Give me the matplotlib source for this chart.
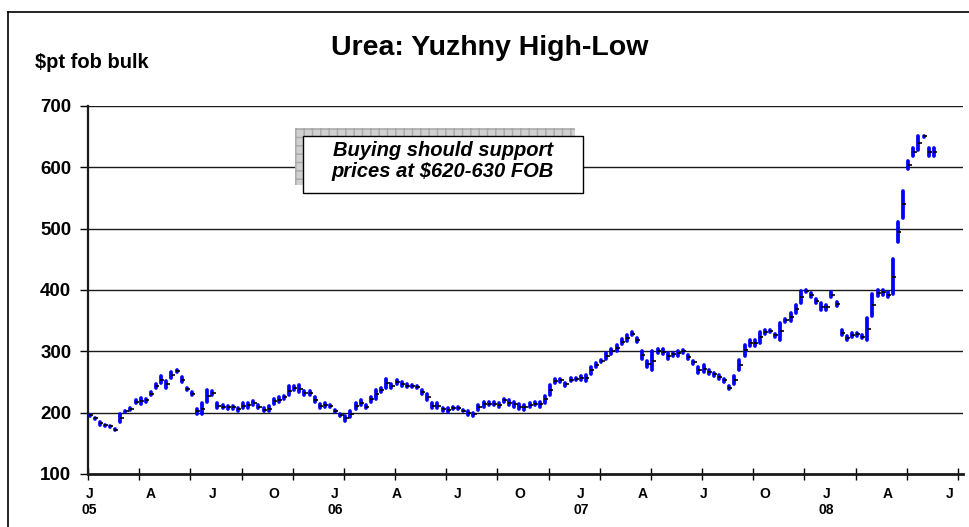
import numpy as np
import matplotlib
matplotlib.use("Agg")
import matplotlib.pyplot as plt
from matplotlib.patches import Rectangle
from matplotlib.lines import Line2D
import matplotlib.transforms as mtransforms

plt.rcParams['font.family'] = ['Liberation Sans', 'DejaVu Sans']

# weekly high / low, $/t fob bulk (Jan 2005 - Jun 2008)
high = [198, 192, 186, 181, 179, 174, 199, 204, 209, 222, 225, 224, 234, 248, 261, 253,
        268, 271, 259, 242, 235, 207, 216, 238, 236, 216, 213, 212, 212, 209, 216, 217,
        220, 213, 208, 212, 224, 226, 228, 245, 245, 246, 236, 237, 226, 215, 216, 214,
        206, 199, 195, 204, 216, 221, 213, 227, 238, 242, 256, 248, 254, 251, 247, 246,
        245, 238, 232, 216, 216, 209, 208, 211, 211, 206, 203, 201, 214, 218, 218, 218,
        216, 223, 221, 219, 215, 214, 216, 218, 219, 228, 246, 256, 256, 250, 258, 258,
        260, 263, 276, 282, 287, 298, 305, 311, 321, 327, 333, 322, 302, 286, 302, 305,
        304, 299, 299, 302, 303, 295, 286, 276, 278, 271, 266, 263, 256, 245, 261, 287,
        312, 320, 320, 333, 335, 336, 330, 347, 354, 363, 376, 399, 401, 396, 386, 379,
        377, 397, 382, 336, 326, 331, 331, 327, 356, 395, 401, 401, 398, 452, 512, 562,
        612, 632, 652, 652, 632, 632]
low = [193, 189, 179, 178, 176, 170, 183, 200, 203, 214, 213, 216, 227, 239, 247, 240,
       256, 266, 249, 236, 227, 197, 197, 216, 227, 207, 207, 205, 205, 202, 207, 207,
       212, 207, 201, 201, 213, 216, 222, 227, 236, 232, 227, 227, 216, 207, 209, 209,
       200, 193, 186, 192, 205, 211, 207, 217, 222, 233, 240, 239, 246, 243, 241, 241,
       240, 229, 219, 207, 207, 202, 200, 205, 205, 201, 196, 194, 204, 209, 211, 211,
       208, 217, 211, 209, 205, 204, 209, 211, 209, 215, 227, 247, 249, 243, 250, 252,
       253, 251, 262, 274, 281, 286, 295, 300, 311, 316, 325, 315, 287, 274, 268, 297,
       294, 287, 291, 292, 297, 286, 279, 264, 266, 262, 259, 254, 249, 237, 246, 268,
       292, 307, 307, 313, 327, 330, 322, 318, 347, 349, 362, 377, 396, 387, 377, 367,
       367, 387, 373, 325, 317, 322, 324, 320, 317, 356, 390, 391, 387, 392, 477, 517,
       597, 617, 627, 649, 617, 617]

quarter_labels = ['J', 'A', 'J', 'O'] * 3 + ['J', 'A', 'J']
year_labels = ['05', '06', '07', '08']
y_ticks = [100, 200, 300, 400, 500, 600, 700]

title = "Urea: Yuzhny High-Low"
unit_label = "$pt fob bulk"
note = "Buying should support\nprices at \\$620-630 FOB"

high = np.array(high)
low = np.array(low)
x = np.arange(len(high)) + 0.3
mid = (high + low) / 2

fig = plt.figure(figsize=(9.69, 5.27), dpi=100)
ax = fig.add_axes([88 / 969, 1 - 474 / 527, (963 - 88) / 969, (474 - 106) / 527])

ax.set_xlim(0, 171)
ax.set_ylim(100, 700)

for y in y_ticks[1:]:
    ax.axhline(y, color='#1a1a1a', lw=1.0, zorder=1)

# round caps add a little length, so pull the ends in slightly
bars = ax.vlines(x, low + 1, high - 1, colors='#0000ff', linewidth=2.7, zorder=3)
bars.set_capstyle('round')
ax.plot(x + 0.25, mid, linestyle='none', marker='_', color='black',
        markersize=3.5, markeredgewidth=1.2, zorder=4)

for side in ['top', 'right']:
    ax.spines[side].set_visible(False)
ax.spines['left'].set_linewidth(1.6)
ax.spines['bottom'].set_linewidth(2.0)
ax.spines['left'].set_color('#1a1a1a')
ax.spines['bottom'].set_color('#1a1a1a')

ax.set_yticks(y_ticks)
ax.set_yticklabels([str(v) for v in y_ticks], fontsize=13.5, fontweight='bold')
ax.tick_params(axis='y', direction='out', length=6, width=1.0, pad=6)

ax.set_xticks(np.arange(0, 171, 10))
ax.set_xticklabels([])
ax.tick_params(axis='x', direction='inout', length=9, width=1.0)

trans = mtransforms.blended_transform_factory(ax.transData, ax.transAxes)
for k, lab in enumerate(quarter_labels):
    ax.text(12 * k + 0.3, -0.054, lab, transform=trans, ha='center', va='center',
            fontsize=10, fontweight='bold')
for k, lab in enumerate(year_labels):
    ax.text(48 * k + 0.3, -0.099, lab, transform=trans, ha='center', va='center',
            fontsize=10, fontweight='bold')

fig.text(490 / 969, 1 - 48 / 527, title, ha='center', va='center',
         fontsize=20.5, fontweight='bold')
fig.text(35 / 969, 1 - 62 / 527, unit_label, ha='left', va='center',
         fontsize=14.5, fontweight='bold')

# note box with hatched shadow
shadow = Rectangle((295 / 969, 1 - 185 / 527), 280 / 969, 57 / 527,
                   transform=fig.transFigure, facecolor='#d0d0d0',
                   edgecolor='#a8a8a8', hatch='++', linewidth=0, zorder=5)
fig.add_artist(shadow)
box = Rectangle((303 / 969, 1 - 193 / 527), 280 / 969, 57 / 527,
                transform=fig.transFigure, facecolor='white',
                edgecolor='black', linewidth=1.0, zorder=6)
fig.add_artist(box)
fig.text(443 / 969, 1 - 161 / 527, note, ha='center', va='center',
         fontsize=14.5, fontweight='bold', fontstyle='italic',
         linespacing=1.15, zorder=7)

# outer chart border (top and left)
fig.add_artist(Line2D([8 / 969, 1], [1 - 12 / 527, 1 - 12 / 527],
                      transform=fig.transFigure, color='black', lw=1.2))
fig.add_artist(Line2D([8 / 969, 8 / 969], [0, 1 - 12 / 527],
                      transform=fig.transFigure, color='black', lw=1.2))

fig.savefig("out.png", dpi=100)
